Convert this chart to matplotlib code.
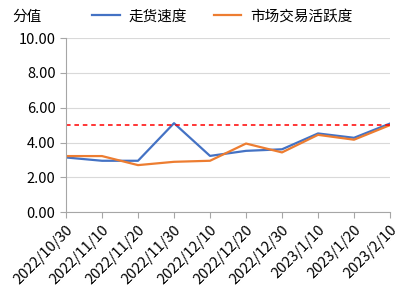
import matplotlib.pyplot as plt

plt.rcParams['font.family'] = ['Noto Sans CJK SC', 'DejaVu Sans']

dates = ['2022/10/30', '2022/11/10', '2022/11/20', '2022/11/30', '2022/12/10',
         '2022/12/20', '2022/12/30', '2023/1/10', '2023/1/20', '2023/2/10']
speed = [3.14, 2.95, 2.95, 5.11, 3.23, 3.52, 3.61, 4.52, 4.27, 5.09]
activity = [3.22, 3.22, 2.70, 2.89, 2.95, 3.94, 3.43, 4.44, 4.16, 5.00]
threshold = 5.0

fig = plt.figure(figsize=(4.06, 3.0), dpi=100)
ax = fig.add_axes([0.1626, 0.293, 0.798, 0.58])

x = list(range(len(dates)))
l1, = ax.plot(x, speed, color='#4472C4', lw=1.6, label='走货速度')
l2, = ax.plot(x, activity, color='#ED7D31', lw=1.6, label='市场交易活跃度')
ax.axhline(threshold, color='#FF0000', lw=1.1, ls=(0, (3, 2.5)))

ax.set_xlim(0, len(dates) - 1)
ax.set_ylim(0, 10)
ax.set_yticks([0, 2, 4, 6, 8, 10])
ax.set_yticklabels(['%.2f' % v for v in [0, 2, 4, 6, 8, 10]], fontsize=10.5)
ax.set_xticks(x)
ax.set_xticklabels(dates, rotation=45, ha='right', rotation_mode='anchor', fontsize=10.5)
ax.grid(axis='y', color='#D9D9D9', lw=0.8)
ax.set_axisbelow(True)
for s in ['top', 'right']:
    ax.spines[s].set_visible(False)
for s in ['left', 'bottom']:
    ax.spines[s].set_color('#A6A6A6')
ax.tick_params(axis='both', color='#A6A6A6', length=4, labelcolor='#000000')

fig.text(0.03, 0.945, '分值', fontsize=10.5, va='center')
fig.legend(handles=[l1, l2], loc='center left', bbox_to_anchor=(0.195, 0.945), ncol=2,
           frameon=False, fontsize=10.5, handlelength=1.9, handletextpad=0.6, columnspacing=1.8)

fig.savefig('out.png', dpi=100)
